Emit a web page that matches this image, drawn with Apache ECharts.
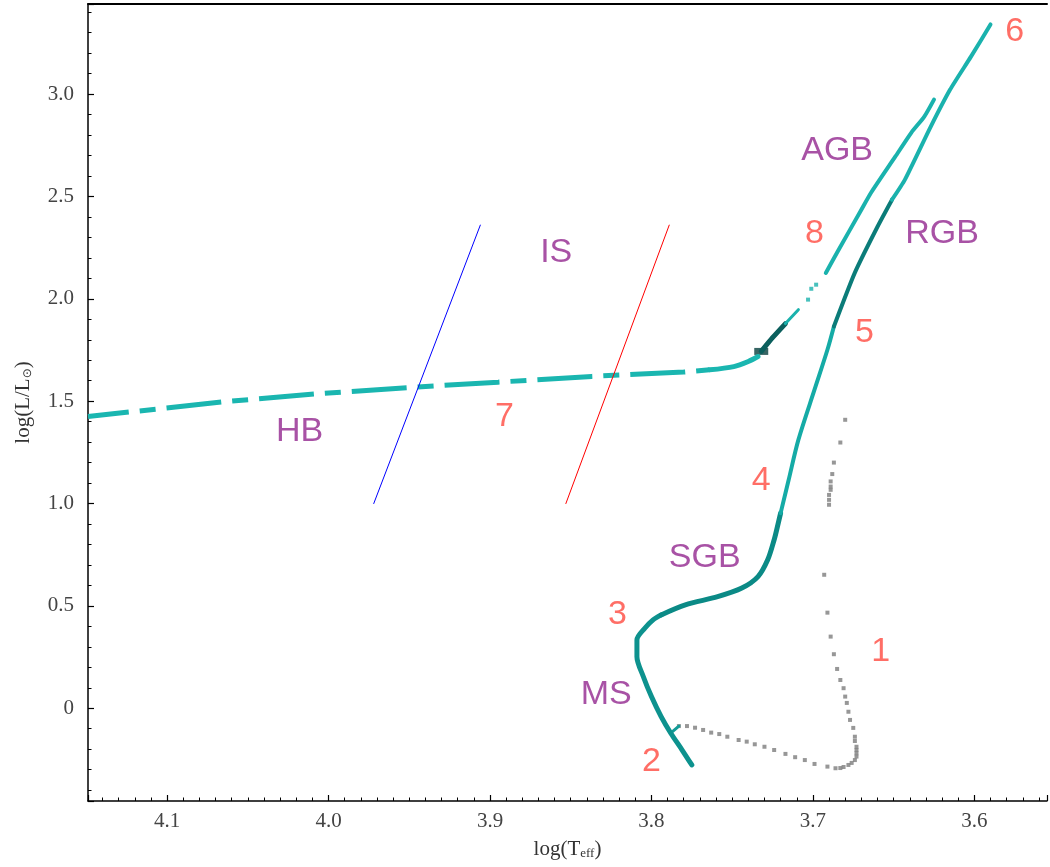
<!DOCTYPE html>
<html>
<head>
<meta charset="utf-8">
<script src="https://cdn.jsdelivr.net/npm/echarts@6/dist/echarts.min.js"></script>
<style>
  html, body { margin: 0; padding: 0; background: #fff; }
  #main { width: 1050px; height: 867px; }
</style>
</head>
<body>
<div id="main"></div>
<script>
// log(Teff) / log(L/Lsun)
var msT = [3.775, 3.781, 3.788, 3.794, 3.800, 3.805, 3.809, 3.809, 3.804, 3.799, 3.794];
var msL = [-0.277, -0.204, -0.122, -0.041, 0.057, 0.154, 0.252, 0.334, 0.392, 0.432, 0.456];

var sgbT = [3.794, 3.779, 3.759, 3.744, 3.734, 3.728, 3.724, 3.722, 3.720];
var sgbL = [0.456, 0.505, 0.545, 0.587, 0.643, 0.725, 0.823, 0.886, 0.953];

var rgbLowT = [3.720, 3.715, 3.709, 3.699, 3.691, 3.687];
var rgbLowL = [0.953, 1.116, 1.311, 1.556, 1.751, 1.865];

var rgbMidT = [3.687, 3.674, 3.660, 3.651];
var rgbMidL = [1.865, 2.128, 2.352, 2.484];

var rgbTopT = [3.651, 3.643, 3.627, 3.615, 3.602, 3.590];
var rgbTopL = [2.484, 2.582, 2.841, 3.022, 3.184, 3.340];

var hbT = [4.149, 4.066, 4.009, 3.950, 3.895, 3.837, 3.780, 3.764];
var hbL = [1.425, 1.496, 1.535, 1.567, 1.593, 1.621, 1.642, 1.653];

var hbEndT = [3.764, 3.749, 3.740, 3.734];
var hbEndL = [1.653, 1.669, 1.694, 1.718];

var eagbT = [3.732, 3.725, 3.717];
var eagbL = [1.743, 1.810, 1.879];

var eagb2T = [3.717, 3.709];
var eagb2L = [1.879, 1.947];

var agbDotT = [3.703, 3.701, 3.698];
var agbDotL = [1.996, 2.049, 2.069];

var agbT = [3.692, 3.685, 3.670, 3.664, 3.649, 3.639, 3.631, 3.625];
var agbL = [2.126, 2.226, 2.435, 2.518, 2.694, 2.812, 2.890, 2.973];

var hookT = [3.787, 3.783];
var hookL = [-0.114, -0.087];

var pmsT = [3.680, 3.683, 3.687, 3.688, 3.689, 3.689, 3.689, 3.690, 3.690, 3.690,
  3.693, 3.691, 3.689, 3.687, 3.685, 3.683, 3.681, 3.680, 3.679, 3.678, 3.677, 3.675,
  3.674, 3.674, 3.673, 3.673, 3.673, 3.673, 3.674, 3.676, 3.678, 3.681, 3.683, 3.686,
  3.691, 3.699, 3.705, 3.711, 3.717, 3.724, 3.730, 3.736, 3.741, 3.746, 3.753, 3.758,
  3.763, 3.768, 3.773, 3.778, 3.783];
var pmsL = [1.409, 1.298, 1.200, 1.144, 1.108, 1.083, 1.067, 1.042, 1.018, 0.994,
  0.652, 0.467, 0.350, 0.264, 0.192, 0.138, 0.098, 0.057, 0.026, -0.017, -0.057, -0.096,
  -0.139, -0.160, -0.188, -0.204, -0.220, -0.236, -0.253, -0.267, -0.277, -0.287, -0.292, -0.293,
  -0.285, -0.272, -0.253, -0.239, -0.223, -0.204, -0.188, -0.176, -0.163, -0.155, -0.139, -0.126,
  -0.119, -0.106, -0.095, -0.087, -0.087];

// instability strip edges
var blueT = [3.972, 3.906];
var blueL = [1.0, 2.36];
var redT = [3.853, 3.789];
var redL = [1.0, 2.36];

// annotations
var numText = ['1', '2', '3', '4', '5', '6', '7', '8'];
var numT = [3.658, 3.800, 3.821, 3.732, 3.668, 3.575, 3.891, 3.699];
var numL = [0.275, -0.261, 0.456, 1.111, 1.834, 3.306, 1.424, 2.318];

var phaseText = ['MS', 'SGB', 'RGB', 'AGB', 'HB', 'IS'];
var phaseT = [3.828, 3.767, 3.620, 3.685, 4.018, 3.859];
var phaseL = [0.066, 0.735, 2.318, 2.724, 1.351, 2.224];

var tMin = 3.555, tMax = 4.149;
var lMin = -0.453, lMax = 3.44;

function pairs(t, l) {
  return t.map(function (v, i) { return [v, l[i]]; });
}
function labelled(txt, t, l) {
  return txt.map(function (s, i) { return { name: s, value: [t[i], l[i]] }; });
}
function track(name, t, l, color, width, smooth) {
  return {
    name: name, type: 'line', data: pairs(t, l), showSymbol: false, symbol: 'none',
    smooth: smooth || false, silent: true,
    lineStyle: { color: color, width: width, cap: 'round', join: 'round' }
  };
}

var chart = echarts.init(document.getElementById('main'), null, { renderer: 'canvas' });

var serif = 'Liberation Serif';
var option = {
  animation: false,
  backgroundColor: '#fff',
  grid: { left: 88, right: 0, top: 4, bottom: 66 },
  xAxis: [
    {
      type: 'value', inverse: true, min: tMin, max: tMax, splitNumber: 6,
      position: 'bottom',
      name: 'log(T{s|eff})', nameLocation: 'middle', nameGap: 37,
      nameTextStyle: {
        fontFamily: serif, fontSize: 21, color: '#333',
        rich: { s: { fontFamily: serif, fontSize: 13, color: '#333', verticalAlign: 'bottom', padding: [9, 0, 0, 0] } }
      },
      axisLine: { show: true, onZero: false, lineStyle: { color: '#000', width: 1.5 } },
      axisTick: { show: true, inside: true, length: 6, lineStyle: { color: '#000', width: 1.2 } },
      minorTick: { show: true, splitNumber: 10, length: 3.5, lineStyle: { color: '#000', width: 1 } },
      splitLine: { show: false },
      axisLabel: {
        fontFamily: serif, fontSize: 21, color: '#444', margin: 10,
        formatter: function (v) {
          var r = Math.round(v * 10) / 10;
          if (Math.abs(v - r) > 1e-6) return '';
          return r.toFixed(1);
        }
      }
    },
    {
      type: 'value', inverse: true, min: tMin, max: tMax, position: 'top',
      axisLine: { show: true, onZero: false, lineStyle: { color: '#000', width: 2 } },
      axisTick: { show: false }, axisLabel: { show: false }, splitLine: { show: false }
    }
  ],
  yAxis: {
    type: 'value', min: lMin, max: lMax, splitNumber: 7,
    name: 'log(L/L{s|⊙})', nameLocation: 'middle', nameGap: 54, nameRotate: 90,
    nameTextStyle: {
      fontFamily: serif, fontSize: 21, color: '#333',
      rich: { s: { fontFamily: 'DejaVu Sans', fontSize: 12, color: '#333', verticalAlign: 'bottom', padding: [8, 0, 0, 0] } }
    },
    axisLine: { show: true, onZero: false, lineStyle: { color: '#000', width: 1.5 } },
    axisTick: { show: true, inside: true, length: 6, lineStyle: { color: '#000', width: 1.2 } },
    minorTick: { show: true, splitNumber: 5, length: 3.5, lineStyle: { color: '#000', width: 1 } },
    splitLine: { show: false },
    axisLabel: {
      fontFamily: serif, fontSize: 21, color: '#444', margin: 14,
      formatter: function (v) {
        var r = Math.round(v * 2) / 2;
        if (Math.abs(v - r) > 1e-6) return '';
        return r === 0 ? '0' : r.toFixed(1);
      }
    }
  },
  series: [
    {
      name: 'pre-MS', type: 'scatter', data: pairs(pmsT, pmsL), symbol: 'rect', symbolSize: 4,
      itemStyle: { color: '#7d7d7d' }, silent: true
    },
    {
      name: 'HB', type: 'line', data: pairs(hbT, hbL), showSymbol: false, symbol: 'none', silent: true,
      lineStyle: { color: '#1ab6b0', width: 5, type: [55, 11, 16, 11], dashOffset: 14 }
    },
    track('HB end', hbEndT, hbEndL, '#1ab6b0', 5, 0.3),
    track('EAGB dark', eagbT, eagbL, '#0b5f5d', 5, 0.2),
    track('EAGB', eagb2T, eagb2L, '#1ab2ad', 3),
    {
      name: 'clump', type: 'scatter', data: [[eagbT[0], eagbL[0]]], symbol: 'rect', symbolSize: [14, 7],
      itemStyle: { color: '#053e3d' }, silent: true
    },
    {
      name: 'AGB dots', type: 'scatter', data: pairs(agbDotT, agbDotL), symbol: 'rect', symbolSize: 4,
      itemStyle: { color: '#1ab2ad' }, silent: true
    },
    track('AGB', agbT, agbL, '#1ab2ad', 4, 0.2),
    track('hook', hookT, hookL, '#139c98', 3),
    track('MS', msT, msL, '#0d928e', 5, 0.3),
    track('SGB', sgbT, sgbL, '#0b8a86', 5, 0.3),
    track('RGB low', rgbLowT, rgbLowL, '#15aba6', 4, 0.3),
    track('RGB mid', rgbMidT, rgbMidL, '#0b7c79', 4, 0.2),
    track('RGB top', rgbTopT, rgbTopL, '#1ab2ad', 4, 0.2),
    track('blue edge', blueT, blueL, '#0000ff', 1),
    track('red edge', redT, redL, '#ff0000', 1),
    {
      name: 'numbers', type: 'scatter', data: labelled(numText, numT, numL), symbolSize: 1,
      itemStyle: { color: 'rgba(0,0,0,0)' }, silent: true,
      label: {
        show: true, position: 'inside', formatter: '{b}', align: 'center', verticalAlign: 'middle',
        fontFamily: 'Liberation Sans', fontSize: 34, color: '#ff4a40'
      }
    },
    {
      name: 'phases', type: 'scatter', data: labelled(phaseText, phaseT, phaseL), symbolSize: 1,
      itemStyle: { color: 'rgba(0,0,0,0)' }, silent: true,
      label: {
        show: true, position: 'inside', formatter: '{b}', align: 'center', verticalAlign: 'middle',
        fontFamily: 'Liberation Sans', fontSize: 34, color: '#92278f'
      }
    }
  ]
};
chart.setOption(option);
</script>
</body>
</html>
